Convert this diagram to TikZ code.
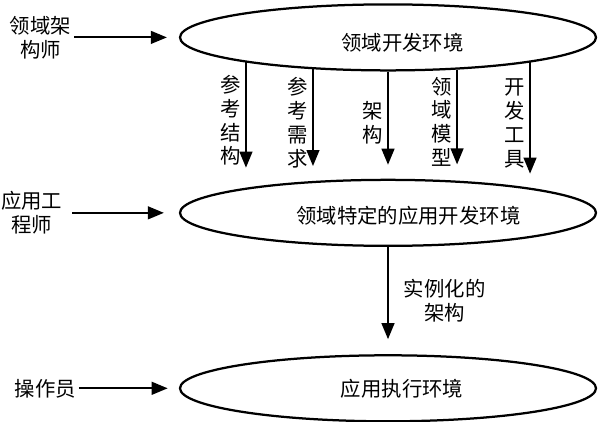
\documentclass[tikz,border=0pt]{standalone}
\usepackage{fontspec}
\setmainfont{Noto Sans CJK SC}
\usetikzlibrary{positioning,arrows.meta,shapes.geometric}

\begin{document}
\begin{tikzpicture}[
    >={Triangle[length=0.4cm, width=0.32cm]},
    every node/.style={font=\fontsize{14.5}{17}\selectfont},
    envbox/.style={ellipse, draw, line width=1.6pt, minimum width=10.4cm, minimum height=1.65cm, inner sep=0pt},
    rolebox/.style={align=center, inner sep=2pt},
    stacklabel/.style={align=center, inner sep=1pt},
    flowarrow/.style={->, line width=1.3pt, black},
]
\useasboundingbox (0,0) rectangle (15.1,10.525);

% ---- Environments ----
\node[envbox, label={[xshift=0.36cm, yshift=-0.14cm]center:领域开发环境}] (devenv) at (9.7,9.59) {};
\node[envbox, below=2.68cm of devenv, label={[xshift=0.51cm, yshift=-0.08cm]center:领域特定的应用开发环境}] (appenv) {};
\node[envbox, below=2.68cm of appenv, label={[xshift=0.35cm]center:应用执行环境}] (runenv) {};

% ---- Roles ----
\node[rolebox, left=2.62cm of devenv] (domarch) {领域架\\构师};
\node[rolebox, left=2.84cm of appenv] (appeng) {应用工\\程师};
\node[rolebox, left=2.5cm of runenv] (operator) {操作员};

\draw[flowarrow, shorten >=0.3cm] (domarch) -- (devenv);
\draw[flowarrow, shorten <=0.17cm, shorten >=0.375cm] (appeng) -- (appenv);
\draw[flowarrow, shorten >=0.28cm] (operator) -- (runenv);

% ---- Artifacts handed down ----
\foreach \ang/\len/\what [count=\i] in {190/2.63/{参\\考\\结\\构}, 203.8/2.42/{参\\考\\需\\求}, 270/2.33/{架\\构}, 335.5/2.37/{领\\域\\模\\型}, 350.1/2.78/{开\\发\\工\\具}}
  \draw[flowarrow] (devenv.\ang) -- ++(0,-\len) node[stacklabel, pos=0.55, left=2pt] (art\i) {\what};

% ---- Instantiation ----
\draw[flowarrow, shorten >=0.375cm] (appenv) -- (runenv) node[stacklabel, midway, right=0.34cm] (inst) {实例化的\\架构};

\end{tikzpicture}
\end{document}
